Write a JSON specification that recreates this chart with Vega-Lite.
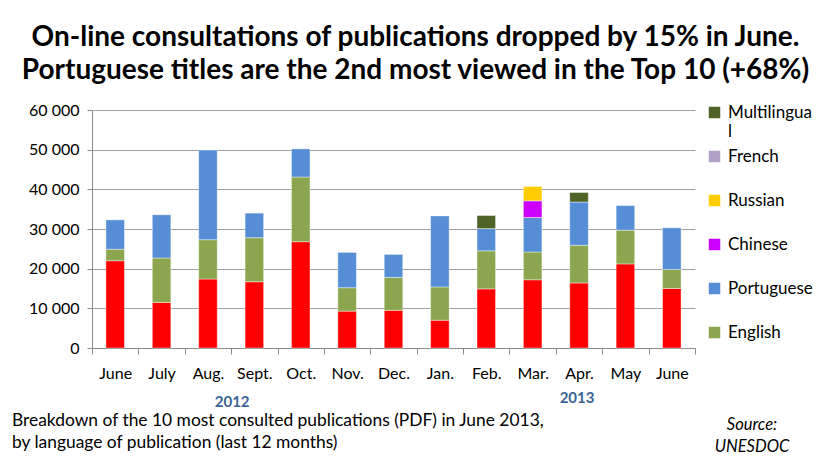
{
  "$schema": "https://vega.github.io/schema/vega-lite/v6.json",
  "width": 603,
  "height": 238,
  "autosize": {"type": "none"},
  "padding": {"left": 92, "top": 110, "right": 135, "bottom": 117},
  "background": "white",
  "title": {
    "text": ["On-line consultations of publications dropped by 15% in June.", "Portuguese titles are the 2nd most viewed in the Top 10 (+68%)"],
    "font": "Lato",
    "fontSize": 28,
    "fontWeight": "bold",
    "color": "#000000",
    "anchor": "middle",
    "dx": 22,
    "lineHeight": 33,
    "offset": 17
  },
  "config": {
    "font": "Lato",
    "view": {"stroke": null},
    "axis": {"labelFont": "Lato", "labelFontSize": 16, "labelColor": "#000000", "domainColor": "#8c8c8c", "tickColor": "#8c8c8c", "gridColor": "#a0a0a0"}
  },
  "datasets": {
    "rows": [
      {"month": "June 2012", "lang": "Spanish", "value": 22000},
      {"month": "June 2012", "lang": "English", "value": 2900},
      {"month": "June 2012", "lang": "Portuguese", "value": 7400},
      {"month": "July", "lang": "Spanish", "value": 11500},
      {"month": "July", "lang": "English", "value": 11200},
      {"month": "July", "lang": "Portuguese", "value": 10900},
      {"month": "Aug.", "lang": "Spanish", "value": 17400},
      {"month": "Aug.", "lang": "English", "value": 9900},
      {"month": "Aug.", "lang": "Portuguese", "value": 22600},
      {"month": "Sept.", "lang": "Spanish", "value": 16700},
      {"month": "Sept.", "lang": "English", "value": 11100},
      {"month": "Sept.", "lang": "Portuguese", "value": 6200},
      {"month": "Oct.", "lang": "Spanish", "value": 26800},
      {"month": "Oct.", "lang": "English", "value": 16300},
      {"month": "Oct.", "lang": "Portuguese", "value": 7100},
      {"month": "Nov.", "lang": "Spanish", "value": 9300},
      {"month": "Nov.", "lang": "English", "value": 5900},
      {"month": "Nov.", "lang": "Portuguese", "value": 8900},
      {"month": "Dec.", "lang": "Spanish", "value": 9500},
      {"month": "Dec.", "lang": "English", "value": 8300},
      {"month": "Dec.", "lang": "Portuguese", "value": 5800},
      {"month": "Jan.", "lang": "Spanish", "value": 7000},
      {"month": "Jan.", "lang": "English", "value": 8400},
      {"month": "Jan.", "lang": "Portuguese", "value": 17900},
      {"month": "Feb.", "lang": "Spanish", "value": 14900},
      {"month": "Feb.", "lang": "English", "value": 9600},
      {"month": "Feb.", "lang": "Portuguese", "value": 5600},
      {"month": "Feb.", "lang": "Multilingual", "value": 3300},
      {"month": "Mar.", "lang": "Spanish", "value": 17200},
      {"month": "Mar.", "lang": "English", "value": 7000},
      {"month": "Mar.", "lang": "Portuguese", "value": 8700},
      {"month": "Mar.", "lang": "Chinese", "value": 4200},
      {"month": "Mar.", "lang": "Russian", "value": 3600},
      {"month": "Apr.", "lang": "Spanish", "value": 16400},
      {"month": "Apr.", "lang": "English", "value": 9500},
      {"month": "Apr.", "lang": "Portuguese", "value": 10900},
      {"month": "Apr.", "lang": "Multilingual", "value": 2400},
      {"month": "May", "lang": "Spanish", "value": 21200},
      {"month": "May", "lang": "English", "value": 8500},
      {"month": "May", "lang": "Portuguese", "value": 6200},
      {"month": "June 2013", "lang": "Spanish", "value": 15000},
      {"month": "June 2013", "lang": "English", "value": 4800},
      {"month": "June 2013", "lang": "Portuguese", "value": 10500}
    ]
  },
  "layer": [
    {
      "data": {"name": "rows"},
      "transform": [
        {"calculate": "indexof(['Spanish', 'English', 'Portuguese', 'Chinese', 'Russian', 'French', 'Multilingual'], datum.lang)", "as": "stackOrder"}
      ],
      "mark": {"type": "bar", "width": {"band": 0.4}, "stroke": "#ffffff", "strokeWidth": 0.6, "strokeOpacity": 0.7},
      "encoding": {
        "x": {
          "field": "month", "type": "nominal", "sort": null,
          "scale": {"paddingInner": 0, "paddingOuter": 0},
          "axis": {"title": null, "labelAngle": 0, "tickBand": "extent", "tickSize": 6, "labelPadding": 11, "labelExpr": "split(datum.label, ' ')[0]", "domainWidth": 1}
        },
        "y": {
          "field": "value", "type": "quantitative", "aggregate": "sum", "stack": "zero",
          "scale": {"domain": [0, 60000]},
          "axis": {"title": null, "values": [0, 10000, 20000, 30000, 40000, 50000, 60000], "tickSize": 5, "labelPadding": 8, "labelOverlap": false, "labelExpr": "replace(format(datum.value, ','), ',', ' ')", "grid": true, "gridWidth": 1}
        },
        "color": {
          "field": "lang", "type": "nominal",
          "scale": {
            "domain": ["Spanish", "English", "Portuguese", "Chinese", "Russian", "French", "Multilingual"],
            "range": ["#ff0000", "#8ba64e", "#558ed5", "#cc00ff", "#ffcc00", "#b2a1c7", "#4f6228"]
          },
          "legend": {
            "title": null,
            "orient": "none",
            "legendX": 614,
            "legendY": -6,
            "values": ["Multilingual", "French", "Russian", "Chinese", "Portuguese", "English"],
            "symbolType": "square",
            "symbolSize": 132,
            "symbolStrokeWidth": 0,
            "labelFont": "Lato",
            "labelFontSize": 17,
            "labelOffset": 5,
            "labelColor": "#000000",
            "labelExpr": "datum.label == 'Multilingual' ? ['Multilingua', 'l'] : datum.label",
            "gridAlign": "all",
            "rowPadding": 7,
            "padding": 0
          }
        },
        "order": {"field": "stackOrder", "type": "quantitative", "sort": "ascending"}
      }
    },
    {
      "data": {"values": [{"month": "Aug.", "text": "2012"}]},
      "mark": {"type": "text", "font": "Lato", "fontSize": 15, "fontWeight": "bold", "color": "#3b6496", "baseline": "middle", "align": "center", "dx": 1, "dy": 54},
      "encoding": {
        "x": {"field": "month", "type": "nominal", "sort": null, "bandPosition": 1,
          "axis": {"title": null, "labelAngle": 0, "tickBand": "extent", "tickSize": 6, "labelPadding": 11, "labelExpr": "split(datum.label, ' ')[0]", "domainWidth": 1}},
        "y": {"datum": 0, "type": "quantitative",
          "axis": {"title": null, "values": [0, 10000, 20000, 30000, 40000, 50000, 60000], "tickSize": 5, "labelPadding": 8, "labelOverlap": false, "labelExpr": "replace(format(datum.value, ','), ',', ' ')", "grid": true, "gridWidth": 1}},
        "text": {"field": "text"}
      }
    },
    {
      "data": {"values": [{"month": "Apr.", "text": "2013"}]},
      "mark": {"type": "text", "font": "Lato", "fontSize": 15, "fontWeight": "bold", "color": "#3b6496", "baseline": "middle", "align": "center", "dx": -2, "dy": 50},
      "encoding": {
        "x": {"field": "month", "type": "nominal", "sort": null, "bandPosition": 0.5,
          "axis": {"title": null, "labelAngle": 0, "tickBand": "extent", "tickSize": 6, "labelPadding": 11, "labelExpr": "split(datum.label, ' ')[0]", "domainWidth": 1}},
        "y": {"datum": 0, "type": "quantitative",
          "axis": {"title": null, "values": [0, 10000, 20000, 30000, 40000, 50000, 60000], "tickSize": 5, "labelPadding": 8, "labelOverlap": false, "labelExpr": "replace(format(datum.value, ','), ',', ' ')", "grid": true, "gridWidth": 1}},
        "text": {"field": "text"}
      }
    },
    {
      "data": {"values": [{"month": "June 2012", "text": "Breakdown of the 10 most consulted publications  (PDF) in  June 2013,\nby language of publication (last 12 months)"}]},
      "mark": {"type": "text", "font": "Lato", "fontSize": 17.4, "color": "#000000", "align": "left", "baseline": "middle", "lineBreak": "\n", "lineHeight": 22, "dx": -80, "dy": 73},
      "encoding": {
        "x": {"field": "month", "type": "nominal", "sort": null, "bandPosition": 0,
          "axis": {"title": null, "labelAngle": 0, "tickBand": "extent", "tickSize": 6, "labelPadding": 11, "labelExpr": "split(datum.label, ' ')[0]", "domainWidth": 1}},
        "y": {"datum": 0, "type": "quantitative",
          "axis": {"title": null, "values": [0, 10000, 20000, 30000, 40000, 50000, 60000], "tickSize": 5, "labelPadding": 8, "labelOverlap": false, "labelExpr": "replace(format(datum.value, ','), ',', ' ')", "grid": true, "gridWidth": 1}},
        "text": {"field": "text"}
      }
    },
    {
      "data": {"values": [{"month": "June 2013", "text": "Source:\nUNESDOC"}]},
      "mark": {"type": "text", "font": "Lato", "fontSize": 16.5, "fontStyle": "italic", "color": "#000000", "align": "center", "baseline": "middle", "lineBreak": "\n", "lineHeight": 22, "dx": 57, "dy": 77},
      "encoding": {
        "x": {"field": "month", "type": "nominal", "sort": null, "bandPosition": 1,
          "axis": {"title": null, "labelAngle": 0, "tickBand": "extent", "tickSize": 6, "labelPadding": 11, "labelExpr": "split(datum.label, ' ')[0]", "domainWidth": 1}},
        "y": {"datum": 0, "type": "quantitative",
          "axis": {"title": null, "values": [0, 10000, 20000, 30000, 40000, 50000, 60000], "tickSize": 5, "labelPadding": 8, "labelOverlap": false, "labelExpr": "replace(format(datum.value, ','), ',', ' ')", "grid": true, "gridWidth": 1}},
        "text": {"field": "text"}
      }
    }
  ]
}
